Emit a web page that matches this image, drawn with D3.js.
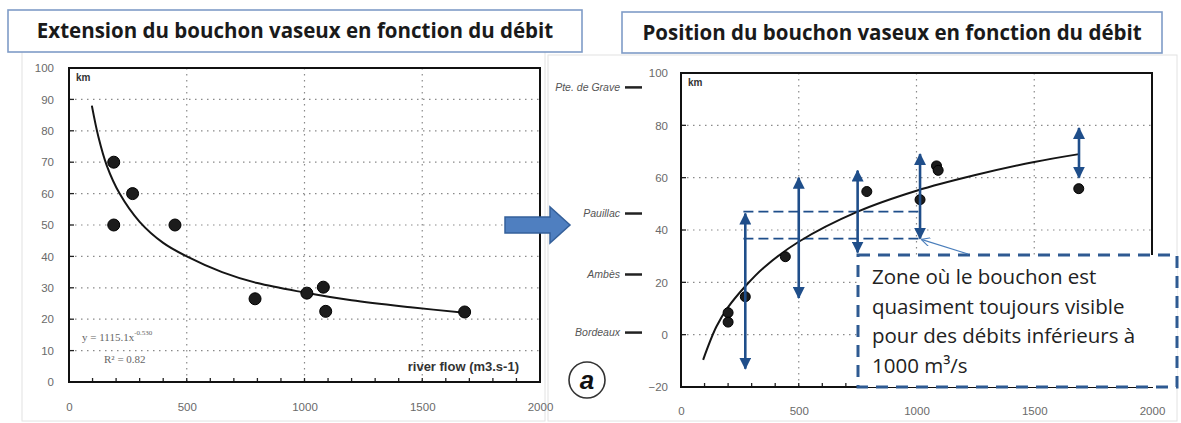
<!DOCTYPE html>
<html>
<head>
<meta charset="utf-8">
<script src="https://cdn.jsdelivr.net/npm/d3@7"></script>
<style>
  body { margin: 0; background: #fff; }
  svg { display: block; }
</style>
</head>
<body>
<div id="chart"></div>
<script>
const width = 1181;
const height = 423;

// left chart: extension (km) vs river flow
const extFlow = [190, 270, 190, 450, 790, 1010, 1080, 1090, 1680];
const extKm   = [70, 60, 50, 50, 26.5, 28.3, 30.2, 22.5, 22.3];
const extFitFlow = [97, 125, 160, 215, 300, 400, 500, 650, 800, 1000, 1200, 1450, 1690];
const extFitKm   = [88, 78, 69, 60, 51, 44.3, 40, 35, 31.5, 28.5, 26, 23.8, 22];

// right chart: position (km) vs river flow
const posFlow = [200, 200, 273, 443, 789, 1015, 1085, 1092, 1689];
const posKm   = [8.4, 4.8, 14.5, 29.8, 54.7, 51.6, 64.5, 62.8, 55.8];
const posFitFlow = [94, 150, 200, 273, 350, 500, 750, 1000, 1250, 1500, 1690];
const posFitKm   = [-9.6, 3, 10.5, 18.5, 25.5, 35.5, 47, 55, 61, 66, 69];

// blue double arrows (range of positions)
const rangeFlow = [273, 500, 750, 1015, 1690];
const rangeLow  = [-13, 14, 31.4, 36.7, 60];
const rangeHigh = [46.3, 60, 62.7, 69, 79];

// zone where the plug is almost always seen
const zoneFlow = [265, 1015];
const zoneKm = [36.7, 47];

const places = ["Pte. de Grave", "Pauillac", "Ambès", "Bordeaux"];
const placeKm = [94.5, 46.3, 23, 0.8];

const xTicks = [0, 500, 1000, 1500, 2000];
const yTicksL = [0, 10, 20, 30, 40, 50, 60, 70, 80, 90, 100];
const yTicksR = [-20, 0, 20, 40, 60, 80, 100];

const titles = ["Extension du bouchon vaseux en fonction du débit",
                "Position du bouchon vaseux en fonction du débit"];
const noteLines = ["Zone où le bouchon est", "quasiment toujours visible",
                   "pour des débits inférieurs à", "1000 m³/s"];

const blue = "#1f4e8a";
const tickFont = "'Liberation Sans', Arial, sans-serif";

var svg = d3.select("#chart").append("svg")
  .attr("width", width)
  .attr("height", height);

var defs = svg.append("defs");
defs.append("marker")
  .attr("id", "head")
  .attr("viewBox", "0 0 12 12")
  .attr("refX", 11).attr("refY", 6)
  .attr("markerWidth", 12).attr("markerHeight", 12)
  .attr("markerUnits", "userSpaceOnUse")
  .attr("orient", "auto-start-reverse")
  .append("path").attr("d", "M0,0 L12,6 L0,12 z").attr("fill", blue);
defs.append("marker")
  .attr("id", "thin")
  .attr("viewBox", "0 0 10 10")
  .attr("refX", 9).attr("refY", 5)
  .attr("markerWidth", 9).attr("markerHeight", 9)
  .attr("markerUnits", "userSpaceOnUse")
  .attr("orient", "auto")
  .append("path").attr("d", "M0,0 L10,5 L0,10").attr("fill", "none")
  .attr("stroke", "#4a7ebb").attr("stroke-width", 1.3);

// panel backgrounds
svg.append("rect").attr("x", 22).attr("y", 43).attr("width", 523).attr("height", 378)
  .attr("fill", "#fff").attr("stroke", "#e2e2e2");
svg.append("rect").attr("x", 548).attr("y", 55).attr("width", 629).attr("height", 366)
  .attr("fill", "#fff").attr("stroke", "#e2e2e2");

// title boxes
var tb = [{x: 8, y: 10, w: 574, h: 42}, {x: 622, y: 12, w: 540, h: 41}];
tb.forEach(function(b, i) {
  svg.append("rect").attr("x", b.x).attr("y", b.y).attr("width", b.w).attr("height", b.h)
    .attr("fill", "#fff").attr("stroke", "#7f9cc7").attr("stroke-width", 1.6);
  svg.append("text").attr("x", b.x + b.w / 2).attr("y", b.y + b.h / 2 + 7)
    .attr("text-anchor", "middle")
    .style("font-family", "'Open Sans', sans-serif").style("font-weight", 700)
    .style("font-size", "20.5px").attr("fill", "#1a1a1a")
    .text(titles[i]);
});

function drawChart(g, x, y, yTicks, yPad, xPad) {
  var x0 = x.range()[0], x1 = x.range()[1];
  var yb = y.range()[0], yt = y.range()[1];

  // dotted grid
  g.selectAll(".hg").data(yTicks.filter(d => d > y.domain()[0] && d < y.domain()[1]))
    .enter().append("line")
    .attr("x1", x0).attr("x2", x1)
    .attr("y1", d => y(d)).attr("y2", d => y(d))
    .attr("stroke", "#8a8a8a").attr("stroke-width", 1.2).attr("stroke-dasharray", "1.5,4.5");
  g.selectAll(".vg").data([500, 1000, 1500])
    .enter().append("line")
    .attr("x1", d => x(d)).attr("x2", d => x(d))
    .attr("y1", yt).attr("y2", yb)
    .attr("stroke", "#8a8a8a").attr("stroke-width", 1.2).attr("stroke-dasharray", "1.5,4.5");

  // minor ticks along bottom and left
  g.selectAll(".mt").data(d3.range(100, 2000, 100))
    .enter().append("line")
    .attr("x1", d => x(d)).attr("x2", d => x(d))
    .attr("y1", yb).attr("y2", yb - 4)
    .attr("stroke", "#222").attr("stroke-width", 1.3);
  g.selectAll(".yt").data(yTicks)
    .enter().append("line")
    .attr("x1", x0).attr("x2", x0 + 5)
    .attr("y1", d => y(d)).attr("y2", d => y(d))
    .attr("stroke", "#222").attr("stroke-width", 1.3);

  // frame
  g.append("rect").attr("x", x0).attr("y", yt)
    .attr("width", x1 - x0).attr("height", yb - yt)
    .attr("fill", "none").attr("stroke", "#111").attr("stroke-width", 2);

  var ya = g.append("g").attr("transform", "translate(" + x0 + ",0)")
    .call(d3.axisLeft(y).tickValues(yTicks).tickSize(0).tickPadding(yPad));
  var xa = g.append("g").attr("transform", "translate(0," + yb + ")")
    .call(d3.axisBottom(x).tickValues(xTicks).tickSize(0).tickPadding(xPad).tickFormat(d3.format("d")));
  [ya, xa].forEach(function(a) {
    a.select(".domain").remove();
    a.selectAll("text").style("font-family", tickFont).style("font-size", "11.5px").attr("fill", "#6a6a6a");
  });

  g.append("text").attr("x", x0 + 7).attr("y", yt + 13)
    .style("font-family", tickFont).style("font-weight", 700).style("font-size", "10px")
    .attr("fill", "#333").text("km");
}

// ---- left chart
var xL = d3.scaleLinear().domain([0, 2000]).range([69, 540]);
var yL = d3.scaleLinear().domain([0, 100]).range([382, 68]);
var gL = svg.append("g");
drawChart(gL, xL, yL, yTicksL, 15, 21);

var lineL = d3.line().x(d => xL(d[0])).y(d => yL(d[1])).curve(d3.curveCatmullRom.alpha(0.5));
gL.append("path").datum(d3.zip(extFitFlow, extFitKm))
  .attr("d", lineL).attr("fill", "none").attr("stroke", "#151515").attr("stroke-width", 2);
gL.selectAll(".pt").data(d3.zip(extFlow, extKm)).enter().append("circle")
  .attr("cx", d => xL(d[0])).attr("cy", d => yL(d[1])).attr("r", 6)
  .attr("fill", "#1c1c1c").attr("stroke", "#000").attr("stroke-width", 1);

var eq = gL.append("text").attr("x", 82).attr("y", 341)
  .style("font-family", "'Liberation Serif', serif").style("font-size", "11px").attr("fill", "#666");
eq.append("tspan").text("y = 1115.1x");
eq.append("tspan").attr("dy", -6).style("font-size", "7px").text("-0.530");
gL.append("text").attr("x", 104).attr("y", 363)
  .style("font-family", "'Liberation Serif', serif").style("font-size", "11px").attr("fill", "#666")
  .text("R² = 0.82");
gL.append("text").attr("x", 519).attr("y", 371).attr("text-anchor", "end")
  .style("font-family", tickFont).style("font-weight", 700).style("font-size", "13px")
  .attr("fill", "#333").text("river flow (m3.s-1)");

// ---- right chart
var xR = d3.scaleLinear().domain([0, 2000]).range([681, 1152]);
var yR = d3.scaleLinear().domain([-20, 100]).range([387, 73]);
var gR = svg.append("g");
drawChart(gR, xR, yR, yTicksR, 13, 20);

// place names on the left
places.forEach(function(p, i) {
  gR.append("text").attr("x", 620).attr("y", yR(placeKm[i]) + 3.5).attr("text-anchor", "end")
    .style("font-family", tickFont).style("font-style", "italic").style("font-size", "10.5px")
    .attr("fill", "#555").text(p);
  gR.append("line").attr("x1", 625).attr("x2", 642)
    .attr("y1", yR(placeKm[i])).attr("y2", yR(placeKm[i]))
    .attr("stroke", "#222").attr("stroke-width", 2.5);
});

// zone dashed lines
gR.selectAll(".zone").data(zoneKm).enter().append("line")
  .attr("x1", xR(zoneFlow[0])).attr("x2", xR(zoneFlow[1]))
  .attr("y1", d => yR(d)).attr("y2", d => yR(d))
  .attr("stroke", blue).attr("stroke-width", 1.8).attr("stroke-dasharray", "10,5");

var lineR = d3.line().x(d => xR(d[0])).y(d => yR(d[1])).curve(d3.curveCatmullRom.alpha(0.5));
gR.append("path").datum(d3.zip(posFitFlow, posFitKm))
  .attr("d", lineR).attr("fill", "none").attr("stroke", "#151515").attr("stroke-width", 2);
gR.selectAll(".pt").data(d3.zip(posFlow, posKm)).enter().append("circle")
  .attr("cx", d => xR(d[0])).attr("cy", d => yR(d[1])).attr("r", 5)
  .attr("fill", "#1c1c1c").attr("stroke", "#000").attr("stroke-width", 1);

// range arrows
gR.selectAll(".rng").data(d3.zip(rangeFlow, rangeLow, rangeHigh)).enter().append("line")
  .attr("x1", d => xR(d[0])).attr("x2", d => xR(d[0]))
  .attr("y1", d => yR(d[1])).attr("y2", d => yR(d[2]))
  .attr("stroke", blue).attr("stroke-width", 2.6)
  .attr("marker-start", "url(#head)").attr("marker-end", "url(#head)");

// annotation box
var nb = {x: 858, y: 255, w: 319, h: 132};
svg.append("rect").attr("x", nb.x).attr("y", nb.y).attr("width", nb.w).attr("height", nb.h)
  .attr("fill", "#fff").attr("stroke", "#2e5a92").attr("stroke-width", 3)
  .attr("stroke-dasharray", "12,8");
svg.append("line").attr("x1", 968).attr("y1", nb.y - 1)
  .attr("x2", xR(zoneFlow[1]) + 2).attr("y2", yR(zoneKm[0]) + 1)
  .attr("stroke", "#4a7ebb").attr("stroke-width", 1.3).attr("marker-end", "url(#thin)");
noteLines.forEach(function(t, i) {
  svg.append("text").attr("x", nb.x + 14).attr("y", nb.y + 29 + i * 29.5)
    .style("font-family", "'Open Sans', sans-serif").style("font-size", "20.5px")
    .attr("fill", "#222").text(t);
});

// circled "a"
svg.append("circle").attr("cx", 587).attr("cy", 380).attr("r", 18)
  .attr("fill", "#fff").attr("stroke", "#333").attr("stroke-width", 1.6);
svg.append("text").attr("x", 587).attr("y", 389).attr("text-anchor", "middle")
  .style("font-family", tickFont).style("font-style", "italic").style("font-weight", 700)
  .style("font-size", "26px").attr("fill", "#111").text("a");

// big arrow between the two panels
svg.append("path")
  .attr("d", "M505,217 L550,217 L550,207 L570,225 L550,243 L550,233 L505,233 Z")
  .attr("fill", "#4f7fc0").attr("stroke", "#35609a").attr("stroke-width", 1.5);
</script>
</body>
</html>
